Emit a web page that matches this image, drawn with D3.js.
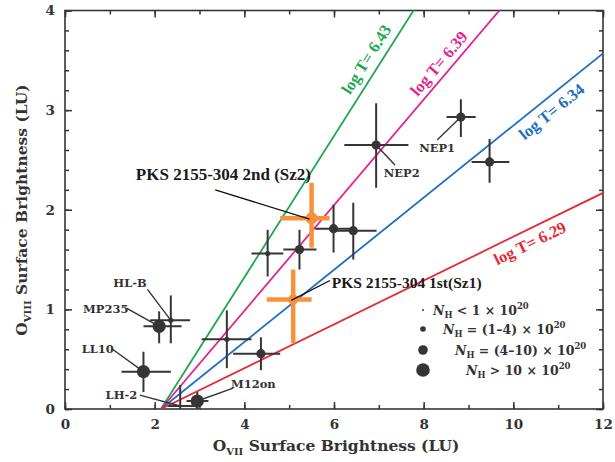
<!DOCTYPE html>
<html>
<head>
<meta charset="utf-8">
<script src="https://cdn.jsdelivr.net/npm/d3@7/dist/d3.min.js"></script>
<style>
  body { margin: 0; background: #fff; }
  svg text { font-family: "DejaVu Serif", serif; font-weight: bold; fill: #333; }
  .times { font-family: "Liberation Serif", "Times New Roman", serif; }
</style>
</head>
<body>
<svg id="chart" width="615" height="462"></svg>
<script>
// values
var xTicks = [0, 2, 4, 6, 8, 10, 12];
var yTicks = [0, 1, 2, 3, 4];

// grey points (OVII, OVIII in LU, with error ranges), NH class 0..3
var names    = ["HL-B", "MP235", "LL10", "LH-2", "M12on", "", "", "", "", "", "", "NEP2", "NEP1", ""];
var ovii     = [2.36, 2.10, 1.75, 2.57, 2.95, 3.61, 4.37, 4.52, 5.23, 5.99, 6.43, 6.94, 8.83, 9.47];
var oviiLo   = [1.90, 1.75, 1.26, 2.30, 2.71, 3.05, 3.75, 4.16, 4.87, 5.58, 5.99, 6.23, 8.51, 9.07];
var oviiHi   = [2.79, 2.60, 2.36, 2.95, 3.20, 4.16, 4.80, 4.87, 5.61, 6.42, 6.95, 7.66, 9.16, 9.91];
var oviii    = [0.89, 0.83, 0.375, 0.03, 0.08, 0.70, 0.555, 1.56, 1.60, 1.81, 1.79, 2.65, 2.93, 2.48];
var oviiiLo  = [0.66, 0.66, 0.17, 0.00, 0.00, 0.41, 0.39, 1.33, 1.40, 1.57, 1.50, 2.22, 2.73, 2.27];
var oviiiHi  = [1.14, 0.98, 0.575, 0.24, 0.17, 0.99, 0.72, 1.80, 1.80, 2.05, 2.07, 3.07, 3.11, 2.71];
var nhClass  = [1, 3, 3, 0, 3, 1, 2, 1, 2, 2, 2, 2, 2, 2];

// PKS 2155-304 pointings
var pksNames   = ["PKS 2155-304 2nd (Sz2)", "PKS 2155-304 1st(Sz1)"];
var pksOvii    = [5.50, 5.09];
var pksOviiLo  = [4.80, 4.50];
var pksOviiHi  = [5.90, 5.50];
var pksOviii   = [1.915, 1.10];
var pksOviiiLo = [1.62, 0.66];
var pksOviiiHi = [2.27, 1.40];

// constant-temperature model lines
var logT   = ["6.43", "6.39", "6.34", "6.29"];
var slopes = [0.71, 0.53, 0.362, 0.22];
var lineX0 = 2.14;

// legend
var nhText = ["< 1 \u00d7 10", "= (1\u20134) \u00d7 10", "= (4\u201310) \u00d7 10", "> 10 \u00d7 10"];

// ---- styles / layout ----
var lineColors = ["#1fa84f", "#e2258f", "#1b6fc0", "#e8292f"];
var dark = "#353535";
var orange = "#f7923a";
var radius = [1.0, 2.6, 4.6, 6.6];

var svg = d3.select("#chart");
var x = d3.scaleLinear().domain([0, 12]).range([65, 603]);
var y = d3.scaleLinear().domain([0, 4]).range([409, 10.5]);

svg.append("defs").append("clipPath").attr("id", "plot")
  .append("rect")
  .attr("x", x(0)).attr("y", y(4))
  .attr("width", x(12) - x(0)).attr("height", y(0) - y(4));

// axes, ticks point inward on all four sides
function axis(gen, tx, ty, major, minor, labels) {
  var g = svg.append("g").attr("transform", "translate(" + tx + "," + ty + ")");
  g.append("g").call(gen.minor.tickValues(minor).tickSize(-4).tickFormat(""));
  g.append("g").call(gen.major.tickValues(major).tickSize(-7).tickPadding(10)
    .tickFormat(labels ? d3.format("d") : ""));
  g.selectAll(".domain").remove();
  g.selectAll(".tick line").attr("stroke", dark).attr("stroke-width", 1.5);
  g.selectAll(".tick text").attr("font-size", 13.5).attr("fill", dark)
    .style("font-family", "'DejaVu Serif', serif").style("font-weight", "bold");
  return g;
}
var xMinor = x.ticks(12), yMinor = y.ticks(20);
axis({ major: d3.axisBottom(x), minor: d3.axisBottom(x) }, 0, y(0), xTicks, xMinor, true);
axis({ major: d3.axisTop(x), minor: d3.axisTop(x) }, 0, y(4), xTicks, xMinor, false);
axis({ major: d3.axisLeft(y), minor: d3.axisLeft(y) }, x(0), 0, yTicks, yMinor, true);
axis({ major: d3.axisRight(y), minor: d3.axisRight(y) }, x(12), 0, yTicks, yMinor, false);

svg.append("rect")
  .attr("x", x(0)).attr("y", y(4))
  .attr("width", x(12) - x(0)).attr("height", y(0) - y(4))
  .attr("fill", "none").attr("stroke", dark).attr("stroke-width", 1.6);

// axis titles
var xt = svg.append("text").attr("x", 336).attr("y", 451).attr("text-anchor", "middle")
  .attr("font-size", 15.5).attr("fill", dark);
xt.append("tspan").text("O");
xt.append("tspan").attr("font-size", 10).attr("dy", 4).text("VII");
xt.append("tspan").attr("dy", -4).text(" Surface Brightness (LU)");

var yt = svg.append("text").attr("transform", "translate(27,210) rotate(-90)")
  .attr("text-anchor", "middle").attr("font-size", 15.5).attr("fill", dark);
yt.append("tspan").text("O");
yt.append("tspan").attr("font-size", 10).attr("dy", 4).text("VIII");
yt.append("tspan").attr("dy", -4).text(" Surface Brightness (LU)");

// model lines
var plot = svg.append("g").attr("clip-path", "url(#plot)");
plot.selectAll("line.model").data(slopes).enter().append("line")
  .attr("class", "model")
  .attr("x1", x(lineX0)).attr("y1", y(0))
  .attr("x2", function(s) { return x(12); })
  .attr("y2", function(s) { return y(s * (12 - lineX0)); })
  .attr("stroke", function(s, i) { return lineColors[i]; })
  .attr("stroke-width", 1.8);

// model labels: position along the line (data x) and offset across it (px)
var tAlong = [6.98, 8.54, 10.67, 10.24];
var tOff = [14, 12, -13, -13];
slopes.forEach(function(s, i) {
  var ang = Math.atan2(y(s) - y(0), x(lineX0 + 1) - x(lineX0)) * 180 / Math.PI;
  var px = x(tAlong[i]), py = y(s * (tAlong[i] - lineX0));
  svg.append("text").attr("class", "times")
    .attr("transform", "translate(" + px + "," + py + ") rotate(" + ang + ")")
    .attr("y", -tOff[i]).attr("dy", "0.35em")
    .attr("text-anchor", "middle").attr("font-size", 16.5)
    .style("fill", lineColors[i])
    .text("log T= " + logT[i]);
});

// label leaders for named grey points: [text x, text y, leader x, leader y] in data units
var labelAt = {
  "HL-B":  [1.45, 1.27, 1.84, 1.20],
  "MP235": [0.91, 1.01, 1.38, 1.01],
  "LL10":  [0.73, 0.60, 1.06, 0.60],
  "LH-2":  [1.26, 0.14, 1.67, 0.14],
  "M12on": [4.20, 0.25, 3.75, 0.21],
  "NEP2":  [7.51, 2.37, 7.36, 2.45],
  "NEP1":  [8.30, 2.62, 8.30, 2.70]
};
names.forEach(function(n, i) {
  if (!n) return;
  var L = labelAt[n];
  svg.append("line")
    .attr("x1", x(L[2])).attr("y1", y(L[3]))
    .attr("x2", x(ovii[i])).attr("y2", y(oviii[i]))
    .attr("stroke", dark).attr("stroke-width", 1.4);
  svg.append("text").attr("x", x(L[0])).attr("y", y(L[1])).attr("dy", "0.36em")
    .attr("text-anchor", "middle").attr("font-size", 11.5).attr("fill", dark).text(n);
});

// grey points with error bars
var pts = plot.selectAll("g.pt").data(ovii).enter().append("g").attr("class", "pt");
pts.append("line")
  .attr("x1", function(d, i) { return x(oviiLo[i]); })
  .attr("x2", function(d, i) { return x(oviiHi[i]); })
  .attr("y1", function(d, i) { return y(oviii[i]); })
  .attr("y2", function(d, i) { return y(oviii[i]); })
  .attr("stroke", dark).attr("stroke-width", 2);
pts.append("line")
  .attr("x1", function(d) { return x(d); })
  .attr("x2", function(d) { return x(d); })
  .attr("y1", function(d, i) { return y(oviiiLo[i]); })
  .attr("y2", function(d, i) { return y(oviiiHi[i]); })
  .attr("stroke", dark).attr("stroke-width", 2);
pts.append("circle")
  .attr("cx", function(d) { return x(d); })
  .attr("cy", function(d, i) { return y(oviii[i]); })
  .attr("r", function(d, i) { return radius[nhClass[i]]; })
  .attr("fill", dark);

// PKS 2155-304 points
var pksText = [[1.58, 2.30, 3.35, 2.20], [5.95, 1.21, 5.91, 1.29]];
var pksSize = [17, 15.5];
pksOvii.forEach(function(d, i) {
  var g = svg.append("g");
  g.append("line").attr("x1", x(pksOviiLo[i])).attr("x2", x(pksOviiHi[i]))
    .attr("y1", y(pksOviii[i])).attr("y2", y(pksOviii[i]))
    .attr("stroke", orange).attr("stroke-width", 4.5);
  g.append("line").attr("x1", x(d)).attr("x2", x(d))
    .attr("y1", y(pksOviiiLo[i])).attr("y2", y(pksOviiiHi[i]))
    .attr("stroke", orange).attr("stroke-width", 4.5);
  g.append("circle").attr("cx", x(d)).attr("cy", y(pksOviii[i]))
    .attr("r", i === 0 ? 6 : 5.2).attr("fill", orange);
  var T = pksText[i];
  svg.append("line").attr("x1", x(T[2])).attr("y1", y(T[3]))
    .attr("x2", x(d) - 2).attr("y2", y(pksOviii[i]) + 1)
    .attr("stroke", "#111").attr("stroke-width", 1.3);
  svg.append("text").attr("class", "times").attr("x", x(T[0])).attr("y", y(T[1]))
    .attr("font-size", pksSize[i]).style("fill", "#1a1a1a").text(pksNames[i]);
});

// NH legend
var legY = [310, 329, 350, 370];
var legTx = [433, 443, 455, 466];
nhText.forEach(function(t, i) {
  svg.append("circle").attr("cx", 423).attr("cy", legY[i])
    .attr("r", radius[i] + (i === 0 ? 0 : 0.2)).attr("fill", dark);
  var tx = svg.append("text").attr("x", legTx[i]).attr("y", legY[i] + 5)
    .attr("font-size", 12.5).attr("fill", dark);
  tx.append("tspan").attr("font-style", "italic").text("N");
  tx.append("tspan").attr("font-size", 8.5).attr("dy", 3).text("H");
  tx.append("tspan").attr("dy", -3).text(" " + t);
  tx.append("tspan").attr("font-size", 8.5).attr("dy", -6).text("20");
});
</script>
</body>
</html>
